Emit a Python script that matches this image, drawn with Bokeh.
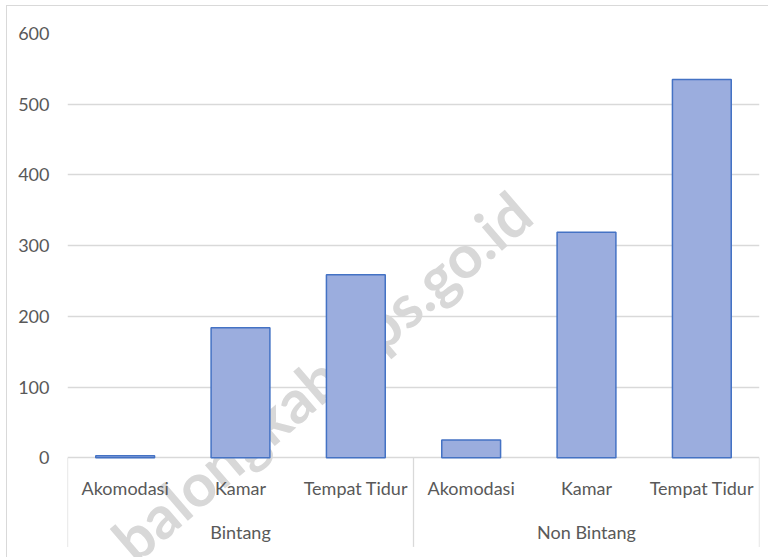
import math
from bokeh.plotting import figure
from bokeh.models import (FactorRange, Range1d, FixedTicker, ColumnDataSource,
                          LabelSet, Label)
from bokeh.core.properties import value
from bokeh.embed import file_html
from bokeh.resources import INLINE

# ---- data ----
groups = ["Bintang", "Non Bintang"]
items = ["Akomodasi", "Kamar", "Tempat Tidur"]
bintang = [3, 184, 259]
non_bintang = [25, 319, 535]
y_ticks = [0, 100, 200, 300, 400, 500, 600]
watermark = "balongkab.bps.go.id"

# ---- derived ----
series = {"Bintang": bintang, "Non Bintang": non_bintang}
factors = [(g, it) for g in groups for it in items]
values = [v for g in groups for v in series[g]]

y_min, y_max = -141, 600
sep_depth = -126
FONT = "Lato"
TXT = "#595959"
GRID = "#d9d9d9"

x_range = FactorRange(factors=factors, range_padding=0, factor_padding=0,
                      group_padding=0, subgroup_padding=0)

p = figure(x_range=x_range, y_range=Range1d(y_min, y_max), width=768, height=557,
           output_backend="svg", toolbar_location=None, x_axis_location=None,
           min_border=0)
p.min_border_left = 67
p.min_border_right = 9
p.min_border_top = 33
p.min_border_bottom = 0
p.outline_line_color = None
p.background_fill_color = "white"
p.border_fill_alpha = 0
p.styles = {"box-shadow": "inset 6px 5px 0 0 #ffffff, inset 7px 6px 0 0 #d9d9d9",
            "background": "white"}

# grid
p.xgrid.visible = False
p.ygrid.ticker = FixedTicker(ticks=y_ticks)
p.ygrid.grid_line_color = GRID
p.ygrid.grid_line_width = 1.3

# y axis
ya = p.yaxis[0]
ya.ticker = FixedTicker(ticks=y_ticks)
ya.axis_line_color = None
ya.major_tick_line_color = None
ya.minor_tick_line_color = None
ya.major_tick_out = 0
ya.major_tick_in = 0
ya.major_label_standoff = 18
ya.major_label_text_font = FONT
ya.major_label_text_font_size = "18px"
ya.major_label_text_color = TXT

# watermark (behind bars)
wm = Label(x=2.2, y=116, text=watermark, angle=0.71, text_align="center",
           text_baseline="middle", text_font=FONT, text_font_style="bold",
           text_font_size="60px", text_color="#d8d8d8", level="underlay")
p.add_layout(wm)

# group separators of the category axis
bounds = [0]
for g in groups:
    bounds.append(bounds[-1] + len(series[g]))
p.segment(x0=bounds, y0=[0] * len(bounds), x1=bounds, y1=[sep_depth] * len(bounds),
          line_color=GRID, line_width=1.3)

# bars
src = ColumnDataSource(dict(x=factors, top=values))
p.vbar(x="x", top="top", width=0.51, source=src, fill_color="#9badde",
       line_color="#4472c4", line_width=1.5)

# category labels
cat_src = ColumnDataSource(dict(x=factors, y=[0] * len(factors),
                                text=[f[1] for f in factors]))
p.add_layout(LabelSet(x="x", y="y", text="text", source=cat_src, y_offset=-30,
                      text_align="center", text_baseline="middle",
                      text_font=value(FONT), text_font_size="18px",
                      text_color=TXT))
grp_src = ColumnDataSource(dict(x=groups, y=[0] * len(groups), text=groups))
p.add_layout(LabelSet(x="x", y="y", text="text", source=grp_src, y_offset=-74,
                      text_align="center", text_baseline="middle",
                      text_font=value(FONT), text_font_size="18px",
                      text_color=TXT))

open("out.html", "w").write(file_html(p, INLINE))
